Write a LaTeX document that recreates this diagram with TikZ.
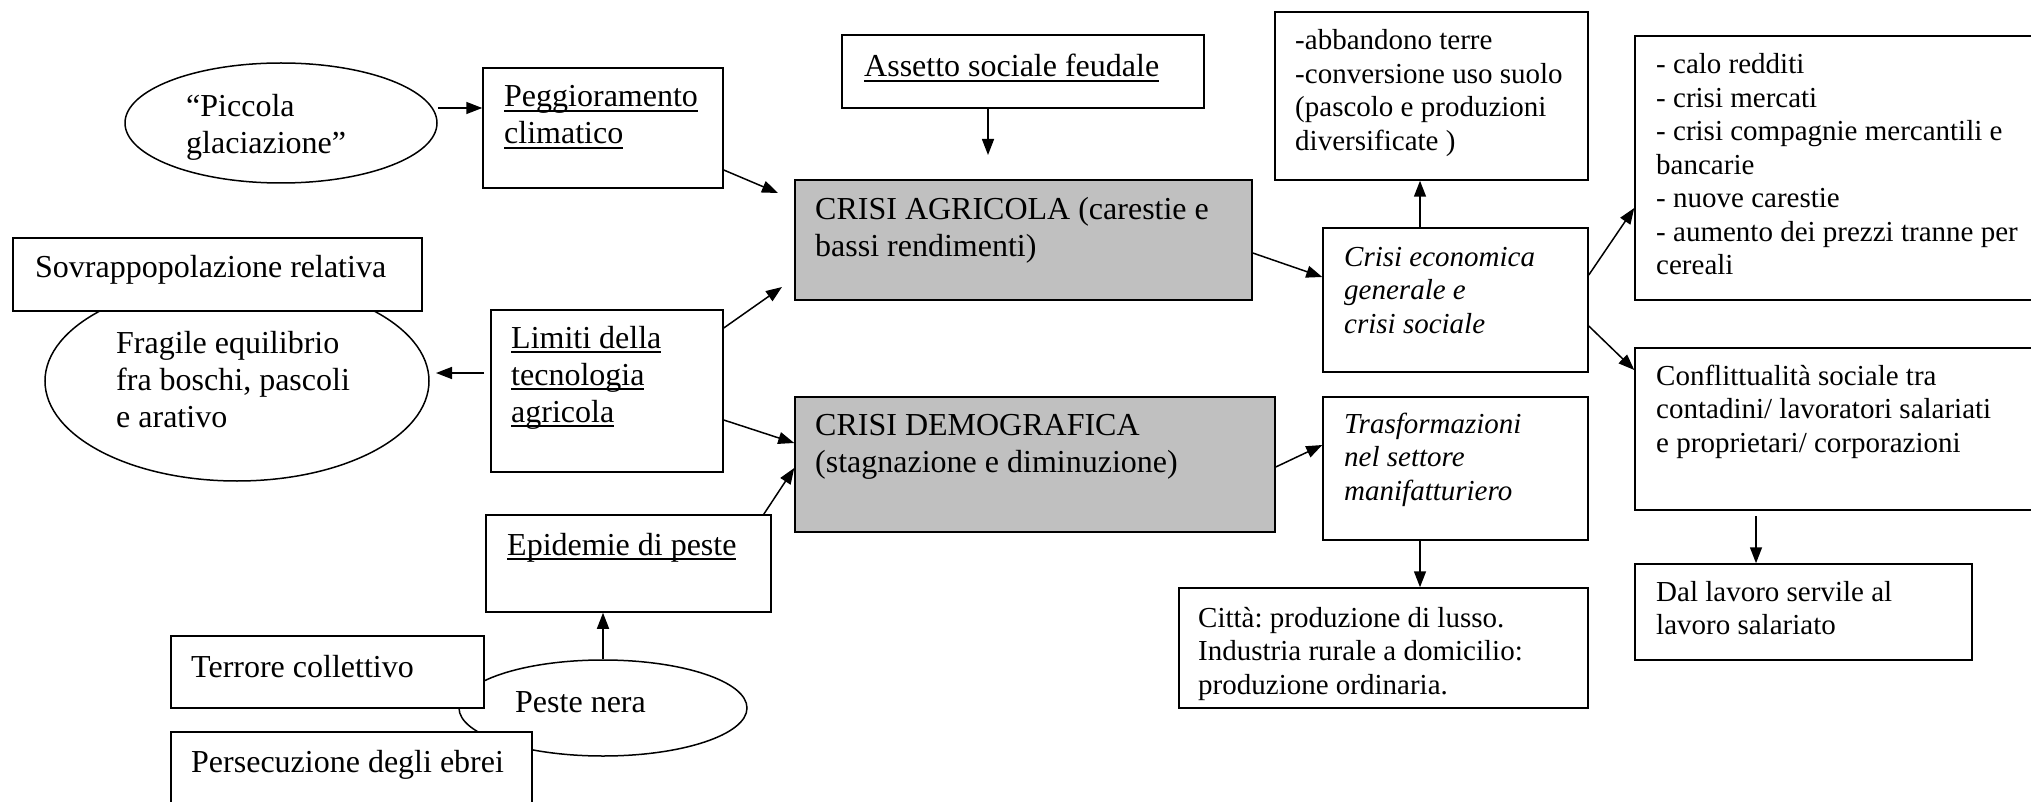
\documentclass[tikz,border=0pt]{standalone}
\usepackage{fontspec}
\setmainfont{Liberation Serif}
\usetikzlibrary{arrows.meta,shapes.geometric,fit,calc}
\definecolor{boxgray}{HTML}{C0C0C0}
\frenchspacing
\newcommand\fbg{\fontsize{32}{37}\selectfont}
\newcommand\fsm{\fontsize{29}{33.5}\selectfont}
\newcommand\lns[1]{\begin{tabular}[t]{@{}l@{}}#1\end{tabular}}
\newlength\ulwd
\newcommand\ulin[1]{\settowidth\ulwd{#1}\rlap{\rule[-5pt]{\ulwd}{1.7pt}}#1}
\tikzset{
  box/.style={draw, line width=1.5pt, fill=white, rectangle, inner sep=0pt},
  graybox/.style={box, fill=boxgray},
  oval/.style={draw, line width=1.5pt, fill=white, ellipse, inner sep=0pt},
  txt/.style={inner sep=0pt, anchor=base west},
  arr/.style={line width=1.5pt, -{Triangle[length=16pt,width=12pt]}}
}
\begin{document}
\begin{tikzpicture}[x=1pt,y=-1pt]
\path[use as bounding box, fill=white] (0,0) rectangle (2031,802);
\clip (0,0) rectangle (2031,802);

% ellipses (drawn first, boxes cover them)
\node[oval, minimum width=312pt, minimum height=120pt] (picc) at (281,123) {};
\node[oval, minimum width=384pt, minimum height=200pt] (frag) at (237,381) {};
\node[oval, minimum width=288pt, minimum height=96pt] (peste) at (603,708) {};

% boxes
\node[box, fit={(483,68) (723,188)}] (peg) {};
\node[box, fit={(13,238) (422,311)}] (sov) {};
\node[box, fit={(491,310) (723,472)}] (lim) {};
\node[box, fit={(486,515) (771,612)}] (epi) {};
\node[box, fit={(171,636) (484,708)}] (terr) {};
\node[box, fit={(171,732) (532,830)}] (pers) {};
\node[box, fit={(842,35) (1204,108)}] (ass) {};
\node[graybox, fit={(795,180) (1252,300)}] (agr) {};
\node[graybox, fit={(795,397) (1275,532)}] (dem) {};
\node[box, fit={(1275,12) (1588,180)}] (abb) {};
\node[box, fit={(1323,228) (1588,372)}] (eco) {};
\node[box, fit={(1323,397) (1588,540)}] (tra) {};
\node[box, fit={(1179,588) (1588,708)}] (cit) {};
\node[box, fit={(1635,36) (2070,300)}] (calo) {};
\node[box, fit={(1635,348) (2070,510)}] (conf) {};
\node[box, fit={(1635,564) (1972,660)}] (dal) {};

% texts
\node[txt, font=\fbg] (tpicc) at (186,117) {\lns{“Piccola\\glaciazione”}};
\node[txt, font=\fbg] (tpeg) at (504,107) {\lns{\ulin{Peggioramento}\\\ulin{climatico}}};
\node[txt, font=\fbg] (tsov) at (35,278) {Sovrappopolazione relativa};
\node[txt, font=\fbg] (tfrag) at (116,353) {\lns{Fragile equilibrio\\fra boschi, pascoli\\e arativo}};
\node[txt, font=\fbg] (tlim) at (511,348) {\lns{\ulin{Limiti della}\\\ulin{tecnologia}\\\ulin{agricola}}};
\node[txt, font=\fbg] (tepi) at (507,555) {\ulin{Epidemie di peste}};
\node[txt, font=\fbg] (tterr) at (191,677) {Terrore collettivo};
\node[txt, font=\fbg] (tpeste) at (515,712) {Peste nera};
\node[txt, font=\fbg] (tpers) at (191,772) {Persecuzione degli ebrei};
\node[txt, font=\fbg] (tass) at (864,77) {\ulin{Assetto sociale feudale}};
\node[txt, font=\fbg] (tagr) at (815,220) {\lns{CRISI AGRICOLA (carestie e\\bassi rendimenti)}};
\node[txt, font=\fbg] (tdem) at (815,435) {\lns{CRISI DEMOGRAFICA\\(stagnazione e diminuzione)}};
\node[txt, font=\fsm] (tabb) at (1295,50) {\lns{-abbandono terre\\-conversione uso suolo\\(pascolo e produzioni\\diversificate )}};
\node[txt, font=\fsm\itshape] (teco) at (1344,266) {\lns{Crisi economica\\generale e\\crisi sociale}};
\node[txt, font=\fsm\itshape] (ttra) at (1344,433) {\lns{Trasformazioni\\nel settore\\manifatturiero}};
\node[txt, font=\fsm] (tcit) at (1198,627) {\lns{Città: produzione di lusso.\\Industria rurale a domicilio:\\produzione ordinaria.}};
\node[txt, font=\fsm] (tcalo) at (1656,74) {\lns{- calo redditi\\- crisi mercati\\- crisi compagnie mercantili e\\bancarie\\- nuove carestie\\- aumento dei prezzi tranne per\\cereali}};
\node[txt, font=\fsm] (tconf) at (1656,385) {\lns{Conflittualità sociale tra\\contadini/ lavoratori salariati\\e proprietari/ corporazioni}};
\node[txt, font=\fsm] (tdal) at (1656,601) {\lns{Dal lavoro servile al\\lavoro salariato}};

% free arrow ends
\coordinate (e1) at (778,193);
\coordinate (e2) at (782,287);
\coordinate (s3) at (484,373);
\coordinate (e3) at (436,373);
\coordinate (e4) at (988,155);
\coordinate (s5) at (1756,516);

% connectors
\draw[arr] (picc.east |- 0,108) -- (peg.west |- 0,108);
\draw[arr] (peg.east |- 0,170) -- (e1);
\draw[arr] (lim.east |- 0,328) -- (e2);
\draw[arr] (s3) -- (e3);
\draw[arr] (lim.east |- 0,420) -- (dem.west |- 0,443);
\draw[arr] ($(epi.north east)+(-8,0)$) -- (dem.west |- 0,468);
\draw[arr] (peste.north) -- (peste.north |- epi.south);
\draw[arr] (ass.south -| e4) -- (e4);
\draw[arr] (agr.east |- 0,253) -- (eco.west |- 0,277);
\draw[arr] (eco.north -| 1420,0) -- (abb.south -| 1420,0);
\draw[arr] (eco.east |- 0,275) -- (calo.west |- 0,208);
\draw[arr] (eco.east |- 0,326) -- (conf.west |- 0,370);
\draw[arr] (dem.east |- 0,467) -- (tra.west |- 0,445);
\draw[arr] (tra.south -| 1420,0) -- (cit.north -| 1420,0);
\draw[arr] (s5) -- (dal.north -| s5);
\end{tikzpicture}
\end{document}
